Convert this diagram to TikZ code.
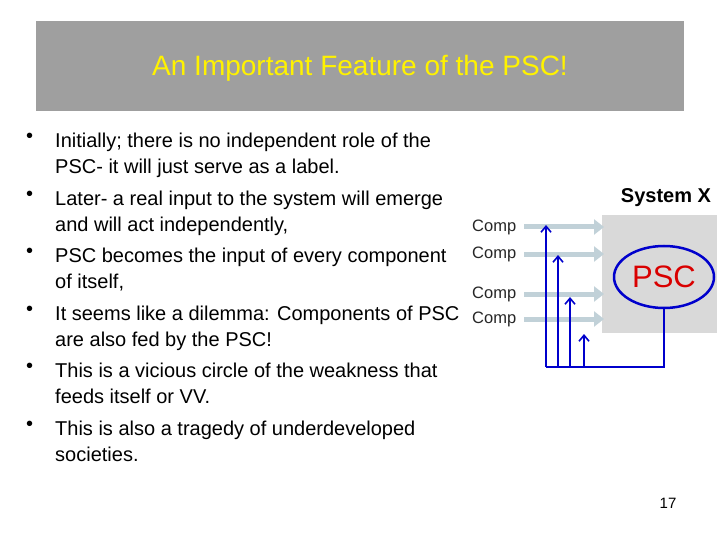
\documentclass[tikz,border=0pt]{standalone}
\usepackage{fontspec}
\setmainfont{Liberation Sans}
\usetikzlibrary{arrows.meta,positioning,shapes.geometric}
\tikzset{
  bullettext/.style={anchor=north west,align=left,font=\fontsize{20}{26}\selectfont,inner sep=0pt},
  complabel/.style={anchor=west,font=\fontsize{16.5}{18}\selectfont,text=black!85,inner sep=0pt},
  comparrow/.style={-{Triangle[length=10pt,width=15pt]},line width=5pt,draw=cyan!25!gray!45},
  feedback/.style={-{Straight Barb[length=6pt,width=10pt]},blue!80!black,line width=1.6pt}
}
\begin{document}
\begin{tikzpicture}[x=1pt,y=-1pt]
\useasboundingbox (0,0) rectangle (720,540);
% title
\fill[gray!75] (36,21) rectangle (684,111);
\node (title) at (360,68) {\fontsize{28}{32}\selectfont\color{yellow}An Important Feature of the PSC!};
% bullets
\foreach \y/\txt [count=\i] in {133/{Initially; there is no independent role of the\\PSC- it will just serve as a label.},
  191/{Later- a real input to the system will emerge\\and will act independently,},
  248/{PSC becomes the input of every component\\of itself,},
  306/{It seems like a dilemma: Components of PSC\\are also fed by the PSC!},
  363/{This is a vicious circle of the weakness that\\feeds itself or VV.},
  421/{This is also a tragedy of underdeveloped\\societies.}}{
  \node[bullettext] (dot\i) at (26,\y) {\textbullet};
  \node[bullettext] (item\i) at (55,\y) {\txt};
}
% system X
\fill[gray!30] (602,215) rectangle (717,333);
\node[font=\bfseries\fontsize{20}{22}\selectfont] (sysx) at (666,198) {System X};
\node[draw=blue!80!black,line width=2.5pt,ellipse,minimum width=100pt,minimum height=62pt,inner sep=0pt,
  font=\fontsize{31}{32}\selectfont,text=red!85!black] (psc) at (664,277) {PSC};
% components
\foreach \y [count=\i] in {227,254,294,319}{
  \node[complabel] (comp\i) at (472,\y) {Comp};
  \coordinate (in\i) at (604,\y);
  \draw[comparrow] (524,\y) -- (in\i);
}
% feedback
\coordinate (base) at (664,367);
\draw[blue!80!black,line width=1.6pt] (psc.south) -- (base) -- (546,367);
\foreach \x/\t in {546/225,558/255,570/297,584/334}{
  \draw[feedback] (\x,367) -- (\x,\t);
}
\node (page) at (668,503) {\fontsize{15}{16}\selectfont 17};
\end{tikzpicture}
\end{document}
